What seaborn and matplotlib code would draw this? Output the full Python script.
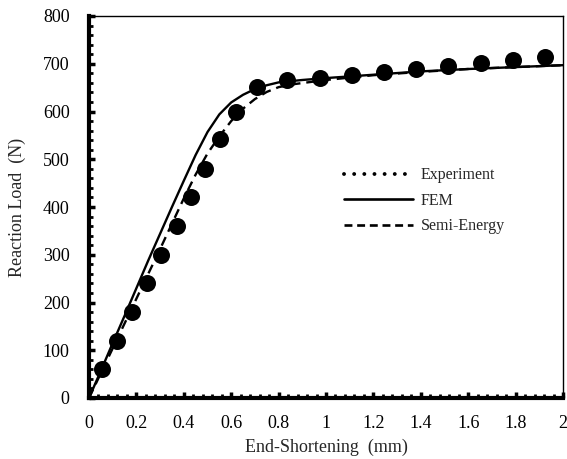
import numpy as np
import pandas as pd
import matplotlib
matplotlib.use("Agg")
import matplotlib.pyplot as plt
import seaborn as sns
from matplotlib.lines import Line2D
from matplotlib.ticker import MultipleLocator

# Experiment data
exp_x = [0.055, 0.12, 0.18, 0.245, 0.305, 0.37, 0.43, 0.49, 0.553, 0.62,
         0.71, 0.835, 0.975, 1.11, 1.245, 1.38, 1.515, 1.654, 1.79, 1.924]
exp_y = [60, 120, 180, 240, 300, 360, 420, 480, 542, 600,
         651, 666, 670, 676, 682, 689, 695, 702, 708, 715]

# FEM curve
fem_x = [0, 0.05, 0.1, 0.15, 0.2, 0.25, 0.3, 0.35, 0.4, 0.45, 0.5, 0.55, 0.6,
         0.65, 0.7, 0.75, 0.8, 0.9, 1.0, 1.2, 1.4, 1.6, 1.8, 2.0]
fem_y = [0, 57, 115, 172, 230, 288, 344, 400, 455, 509, 557, 594, 619,
         635, 647, 655, 661, 666, 670, 677, 684, 689, 693, 697]

# Semi-Energy curve
se_x = [0, 0.05, 0.1, 0.15, 0.2, 0.25, 0.3, 0.35, 0.4, 0.45, 0.5, 0.55, 0.6,
        0.65, 0.7, 0.75, 0.8, 0.86, 1.0, 1.2, 1.4, 1.6, 1.8, 2.0]
se_y = [0, 52, 104, 156, 208, 260, 312, 365, 418, 468, 512, 548, 580,
        606, 626, 641, 651, 657, 666, 676, 683, 689, 693, 697]

sns.set_theme(style="white")
plt.rcParams['font.family'] = ['Liberation Serif', 'DejaVu Serif']

fig = plt.figure(figsize=(5.67, 4.59), dpi=100)
ax = fig.add_axes([89/567, 61/459, (563-89)/567, (398-16)/459])

df_fem = pd.DataFrame({"x": fem_x, "y": fem_y})
df_se = pd.DataFrame({"x": se_x, "y": se_y})
df_exp = pd.DataFrame({"x": exp_x, "y": exp_y})

sns.lineplot(data=df_fem, x="x", y="y", ax=ax, color="black", lw=1.7, sort=False)
sns.lineplot(data=df_se, x="x", y="y", ax=ax, color="black", lw=1.7, sort=False,
             linestyle=(0, (4, 2.5)))
sns.scatterplot(data=df_exp, x="x", y="y", ax=ax, color="black", s=150,
                edgecolor="black", linewidth=0, zorder=5)

ax.set_xlim(0, 2)
ax.set_ylim(0, 800)
ax.xaxis.set_minor_locator(MultipleLocator(0.04))
ax.yaxis.set_major_locator(MultipleLocator(100))
ax.yaxis.set_minor_locator(MultipleLocator(20))
ax.set_xticks(np.arange(0, 2.01, 0.2))
ax.set_xticklabels(["0", "0.2", "0.4", "0.6", "0.8", "1", "1.2", "1.4", "1.6", "1.8", "2"])
ax.tick_params(axis="both", which="both", direction="in", colors="black",
               labelsize=13)
ax.tick_params(axis="y", pad=14)
ax.tick_params(axis="x", pad=12)
ax.tick_params(which="major", length=4, width=2.5)
ax.tick_params(which="minor", length=3, width=2)
ax.tick_params(top=False, right=False, which="both")
ax.tick_params(bottom=True, left=True, which="both")

for s in ["left", "bottom"]:
    ax.spines[s].set_linewidth(3)
    ax.spines[s].set_color("black")
for s in ["top", "right"]:
    ax.spines[s].set_linewidth(1)
    ax.spines[s].set_color("black")

ax.set_xlabel("End-Shortening  (mm)", fontsize=13, labelpad=5)
ax.set_ylabel("Reaction Load  (N)", fontsize=13, labelpad=12)

handles = [
    Line2D([], [], color="black", lw=2.8, linestyle=(0, (0.01, 2.6)),
           dash_capstyle="round"),
    Line2D([], [], color="black", lw=1.9),
    Line2D([], [], color="black", lw=1.9, linestyle=(0, (3, 1.8))),
]
ax.legend(handles, ["Experiment", "FEM", "Semi-Energy"], loc="center left",
          bbox_to_anchor=(0.508, 0.516), frameon=False, fontsize=11.5,
          handlelength=4.3, handletextpad=0.5, labelspacing=0.6)

fig.savefig("out.png", dpi=100)
